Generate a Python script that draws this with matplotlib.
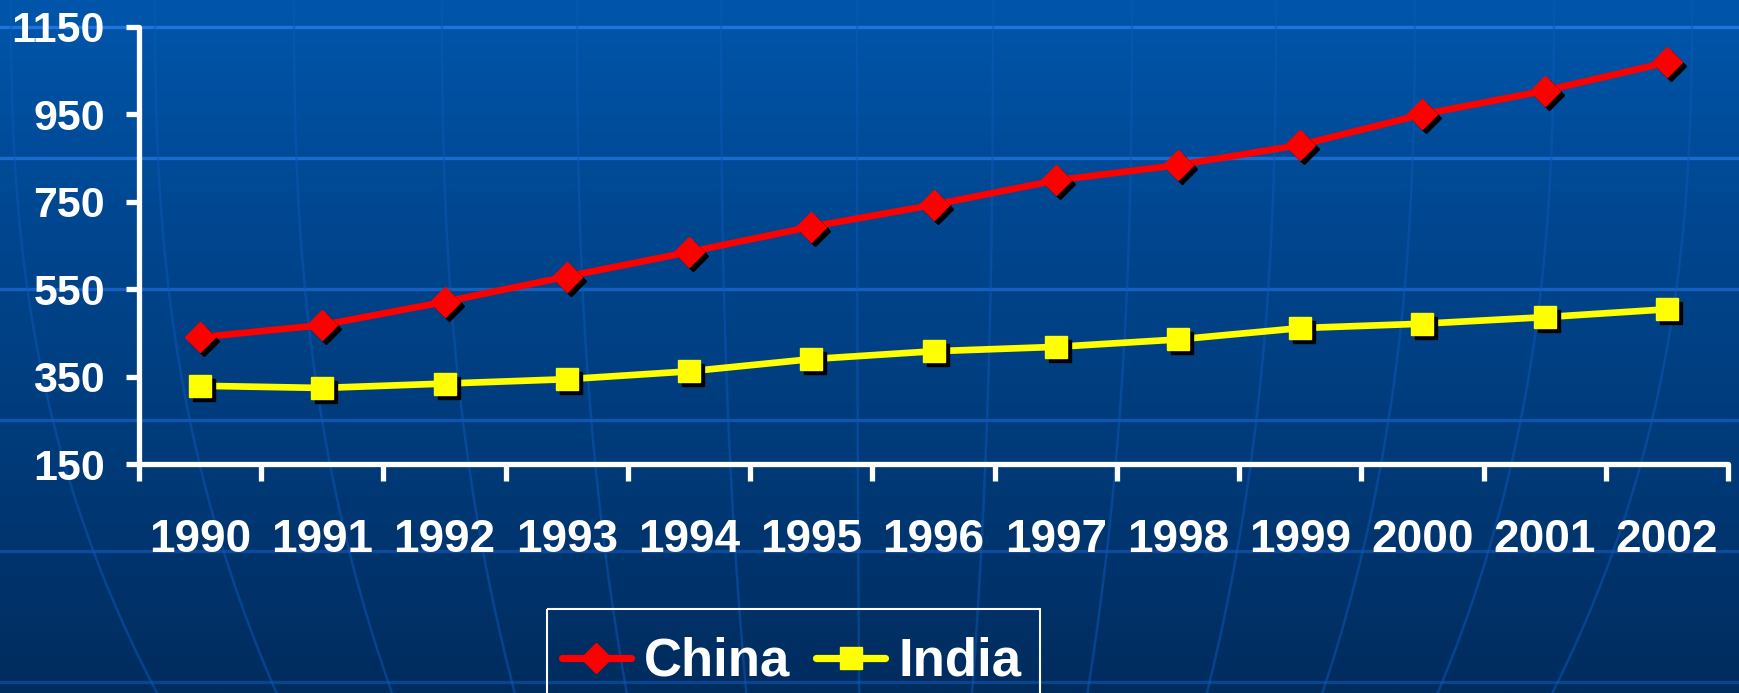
import numpy as np
import matplotlib
matplotlib.use("Agg")
import matplotlib.pyplot as plt
from matplotlib.lines import Line2D
from matplotlib.patches import Rectangle
from matplotlib.colors import LinearSegmentedColormap
import matplotlib.transforms as mtransforms

# ---- data ----
years = ["1990", "1991", "1992", "1993", "1994", "1995", "1996",
         "1997", "1998", "1999", "2000", "2001", "2002"]
china = [440, 468, 521, 579, 635, 693, 743, 799, 834, 880, 950, 1004, 1069]
india = [329, 324, 334, 344, 362, 390, 408, 418, 435, 461, 471, 486, 504]
y_ticks = [150, 350, 550, 750, 950, 1150]

W, H = 1740, 693
DPI = 100
plt.rcParams['font.family'] = ['Liberation Sans', 'DejaVu Sans']
plt.rcParams['font.weight'] = 'bold'

fig = plt.figure(figsize=(W / DPI, H / DPI), dpi=DPI)

# ---- background (gradient + globe lines) ----
bg = fig.add_axes([0, 0, 1, 1], zorder=-10)
bg.set_xlim(0, W)
bg.set_ylim(H, 0)
bg.axis('off')
cmap = LinearSegmentedColormap.from_list(
    'bg', ['#0056ab', '#00468f', '#003a78', '#002c5e'])
grad = np.linspace(0, 1, 256).reshape(-1, 1)
bg.imshow(grad, cmap=cmap, extent=[0, W, H, 0], aspect='auto')

hl_y = [27, 158, 289, 420, 551, 682]
hl_col = ['#1f74dc', '#1b6ad0', '#1460c0', '#0f55ad', '#0c4b9c', '#0a448e']
for yy, cc in zip(hl_y, hl_col):
    bg.axhline(yy, color=cc, lw=2.4)

mer_x0 = [11, 155, 294, 442, 577, 721, 857, 993, 1132, 1276, 1415, 1554, 1692]
yy = np.linspace(0, H, 200)
for x0 in mer_x0:
    xx = x0 + (870 - x0) * 0.17 * (yy / H) ** 2.5
    bg.plot(xx, yy, color='#0d58b8', lw=1.8, alpha=0.5)

# legend box (open at the bottom edge of the picture)
bg.add_patch(Rectangle((547, 609), 1040 - 547, 120, fill=False,
                       edgecolor='white', lw=1.5, zorder=5))

# ---- main axes ----
left, right = 139 / W, 1728 / W
bottom, top = 1 - 464 / H, 1 - 27 / H
ax = fig.add_axes([left, bottom, right - left, top - bottom])
ax.set_facecolor('none')

x = np.arange(len(years))
lw = 4.8
d_ms, s_ms = 15.5, 16
ax.plot(x, china, color='#ff0000', lw=lw, zorder=3, solid_capstyle='round')
ax.plot(x, india, color='#ffff00', lw=lw, zorder=3, solid_capstyle='round')

shadow = mtransforms.offset_copy(ax.transData, fig=fig, x=4, y=-4, units='dots')
ax.plot(x, china, ls='none', marker='D', ms=d_ms, color='black',
        transform=shadow, zorder=4, clip_on=False)
ax.plot(x, india, ls='none', marker='s', ms=s_ms, color='black',
        transform=shadow, zorder=4, clip_on=False)
ax.plot(x, china, ls='none', marker='D', ms=d_ms, color='#ff0000',
        zorder=5, clip_on=False)
ax.plot(x, india, ls='none', marker='s', ms=s_ms, color='#ffff00',
        zorder=5, clip_on=False)

ax.set_xlim(-0.5, len(years) - 0.5)
ax.set_ylim(150, 1150)

for s in ['top', 'right']:
    ax.spines[s].set_visible(False)
for s in ['left', 'bottom']:
    ax.spines[s].set_color('white')
    ax.spines[s].set_linewidth(3.8)
    ax.spines[s].set_capstyle('round')

ax.set_yticks(y_ticks)
ax.set_yticklabels([str(v) for v in y_ticks])
ax.tick_params(axis='y', direction='out', length=9.5, width=3.8, color='white',
               labelcolor='white', labelsize=31, pad=15)

ax.set_xticks(x)
ax.set_xticklabels(years)
ax.set_xticks(np.arange(-0.5, len(years)), minor=True)
ax.tick_params(axis='x', which='major', length=0, labelcolor='white',
               labelsize=33, pad=39)
ax.tick_params(axis='x', which='minor', direction='out', length=12, width=3.8,
               color='white')
for lab in ax.get_xticklabels() + ax.get_yticklabels():
    lab.set_fontweight('bold')

# ---- legend ----
handles = [
    Line2D([], [], color='#ff0000', lw=5.2, marker='D', ms=d_ms,
           solid_capstyle='round'),
    Line2D([], [], color='#ffff00', lw=5.2, marker='s', ms=s_ms,
           solid_capstyle='round'),
]
leg = ax.legend(handles, ['China', 'India'], loc='center left',
                bbox_to_anchor=(562 / W, 1 - 662 / H),
                bbox_transform=fig.transFigure, ncol=2, fontsize=38,
                frameon=False, borderpad=0,
                handlelength=1.3, handletextpad=0.25, columnspacing=0.5,
                borderaxespad=0)
for t in leg.get_texts():
    t.set_color('white')
    t.set_fontweight('bold')

fig.savefig('out.png', dpi=DPI)
